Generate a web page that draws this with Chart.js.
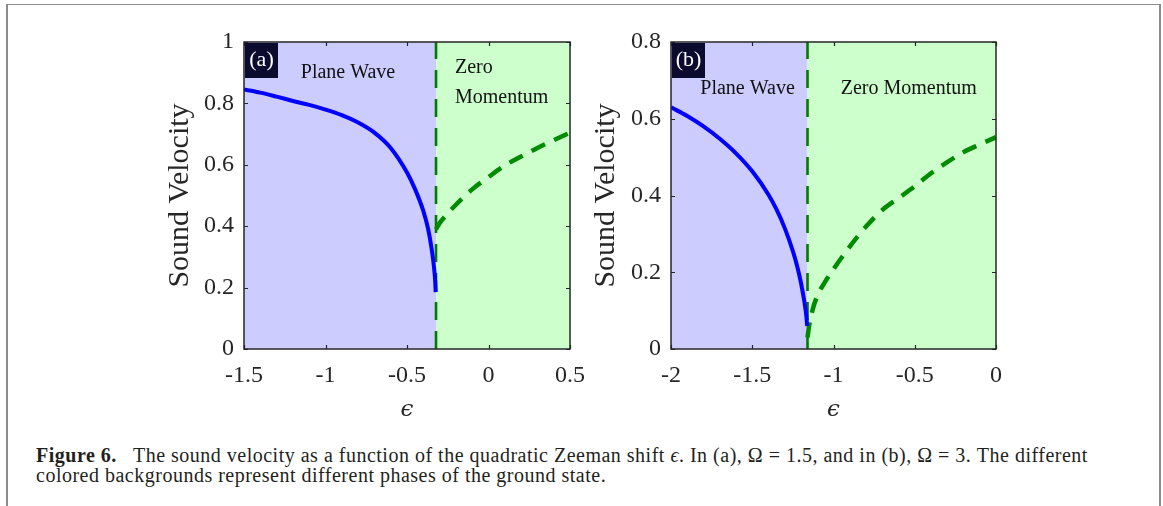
<!DOCTYPE html>
<html><head><meta charset="utf-8">
<script src="https://cdn.jsdelivr.net/npm/chart.js@4.4.0/dist/chart.umd.min.js"></script>
<style>
html,body{margin:0;padding:0;background:#fff;width:1163px;height:506px;overflow:hidden;position:relative;}
#frame{position:absolute;left:6px;top:4px;width:1155px;height:540px;box-sizing:border-box;border-left:2px solid #8c8c8c;border-top:1px solid #8c8c8c;border-right:2px solid #8c8c8c;}
#ca{position:absolute;left:0;top:0;}
#cb{position:absolute;left:560px;top:0;}
#cap{position:absolute;left:36px;top:445px;font-family:"Liberation Serif",serif;font-size:20px;letter-spacing:0.5px;line-height:20px;color:#231f20;white-space:nowrap;}
</style></head>
<body>
<div id="frame"></div>
<canvas id="ca" width="600" height="440"></canvas>
<canvas id="cb" width="603" height="440"></canvas>
<div id="cap"><b>Figure 6.</b>&nbsp;&nbsp; The sound velocity as a function of the quadratic Zeeman shift <i>ϵ</i>. In (a), Ω = 1.5, and in (b), Ω = 3. The different<br>colored backgrounds represent different phases of the ground state.</div>
<script>
// ---------- Panel (a) data: Ω = 1.5 ----------
const epsA_plane = [-1.5,-1.4,-1.3,-1.2,-1.1,-1.0,-0.9,-0.8,-0.7,-0.6,-0.5,-0.45,-0.4,-0.37,-0.35,-0.335,-0.327,-0.324];
const velA_plane = [0.845,0.835,0.822,0.808,0.795,0.78,0.762,0.738,0.705,0.655,0.575,0.52,0.45,0.39,0.33,0.27,0.22,0.185];
const epsA_zero  = [-0.322,-0.3,-0.27,-0.2,-0.1,0,0.1,0.2,0.3,0.4,0.5];
const velA_zero  = [0.39,0.41,0.43,0.47,0.52,0.56,0.598,0.627,0.655,0.68,0.705];
const boundaryA = -0.322;
const xTickValsA = [-1.5,-1,-0.5,0,0.5];
const xTickLabelsA = ['-1.5','-1','-0.5','0','0.5'];
const yTickValsA = [0,0.2,0.4,0.6,0.8,1];
const yTickLabelsA = ['0','0.2','0.4','0.6','0.8','1'];

// ---------- Panel (b) data: Ω = 3 ----------
const epsB_plane = [-2.0,-1.9,-1.8,-1.7,-1.6,-1.5,-1.4,-1.35,-1.3,-1.25,-1.22,-1.2,-1.18,-1.167,-1.162];
const velB_plane = [0.63,0.607,0.58,0.548,0.51,0.463,0.402,0.363,0.315,0.255,0.21,0.172,0.125,0.085,0.06];
const epsB_zero  = [-1.16,-1.15,-1.13,-1.1,-1.05,-1.0,-0.9,-0.8,-0.7,-0.6,-0.5,-0.4,-0.3,-0.2,-0.1,0];
const velB_zero  = [0.03,0.06,0.1,0.138,0.176,0.208,0.267,0.319,0.362,0.393,0.424,0.458,0.487,0.513,0.533,0.552];
const boundaryB = -1.16;
const xTickValsB = [-2,-1.5,-1,-0.5,0];
const xTickLabelsB = ['-2','-1.5','-1','-0.5','0'];
const yTickValsB = [0,0.2,0.4,0.6,0.8];
const yTickLabelsB = ['0','0.2','0.4','0.6','0.8'];

const SERIF = '"Liberation Serif", "Times New Roman", serif';
const INK = '#262626';

function pts(xs, ys){ return xs.map((x,i)=>({x:x,y:ys[i]})); }

const phasePlugin = {
  id:'phase',
  beforeDraw(chart){
    const o = chart.options.plugins.phase; const a = chart.chartArea; const ctx = chart.ctx;
    const bx = chart.scales.x.getPixelForValue(o.boundary);
    ctx.save();
    ctx.fillStyle = '#ccccff'; ctx.fillRect(a.left, a.top, bx - a.left, a.bottom - a.top);
    ctx.fillStyle = '#ccffcc'; ctx.fillRect(bx, a.top, a.right - bx, a.bottom - a.top);
    ctx.restore();
  },
  afterDraw(chart){
    const o = chart.options.plugins.phase; const a = chart.chartArea; const ctx = chart.ctx;
    const xs = chart.scales.x, ys = chart.scales.y;
    ctx.save();
    ctx.strokeStyle = INK; ctx.lineWidth = 1.2;
    ctx.beginPath();
    o.xticks.forEach(v=>{ const p = Math.round(xs.getPixelForValue(v))+0.5;
      ctx.moveTo(p,a.bottom); ctx.lineTo(p,a.bottom-4); ctx.moveTo(p,a.top); ctx.lineTo(p,a.top+4); });
    o.yticks.forEach(v=>{ const p = Math.round(ys.getPixelForValue(v))+0.5;
      ctx.moveTo(a.left,p); ctx.lineTo(a.left+4,p); ctx.moveTo(a.right,p); ctx.lineTo(a.right-4,p); });
    ctx.stroke();
    ctx.lineWidth = 1.5;
    ctx.strokeRect(a.left, a.top, a.right - a.left, a.bottom - a.top);
    ctx.fillStyle = '#0b0b30';
    ctx.fillRect(a.left+1, a.top+1, 33, 35);
    ctx.fillStyle = '#ffffff'; ctx.font = '22px ' + SERIF;
    ctx.textAlign = 'center'; ctx.textBaseline = 'middle';
    ctx.fillText(o.letter, a.left + 17.5, a.top + 18);
    ctx.fillStyle = '#111111'; ctx.font = '20px ' + SERIF;
    o.labels.forEach(l=>{
      ctx.textAlign = l.align;
      ctx.fillText(l.text, xs.getPixelForValue(l.x), ys.getPixelForValue(l.y));
    });
    ctx.restore();
  }
};

function makeChart(id, cfg){
  return new Chart(document.getElementById(id), {
    type:'scatter',
    data:{datasets:[
      {data:pts(cfg.epsP,cfg.velP), showLine:true, borderColor:'#0000ff', borderWidth:4, pointRadius:0, cubicInterpolationMode:'monotone'},
      {data:pts(cfg.epsZ,cfg.velZ), showLine:true, borderColor:'#008a00', borderWidth:4.5, borderDash:[15,10], pointRadius:0, cubicInterpolationMode:'monotone'},
      {data:[{x:cfg.boundary,y:cfg.yMin},{x:cfg.boundary,y:cfg.yMax}], showLine:true, borderColor:'#007a00', borderWidth:2.6, borderDash:[18,11], pointRadius:0}
    ]},
    options:{
      responsive:false, animation:false, devicePixelRatio:1,
      layout:{padding:{left:0, top:42, right:cfg.padRight, bottom:0}},
      plugins:{legend:{display:false}, tooltip:{enabled:false},
        phase:{boundary:cfg.boundary, letter:cfg.letter, labels:cfg.labels, xticks:cfg.xv, yticks:cfg.yv}},
      scales:{
        x:{type:'linear', min:cfg.xMin, max:cfg.xMax,
          afterFit:s=>{s.height = 91;},
          afterBuildTicks:s=>{s.ticks = cfg.xv.map(v=>({value:v}));},
          grid:{display:false, drawTicks:false}, border:{display:false},
          ticks:{padding:12, color:INK, font:{family:SERIF, size:24}, maxRotation:0, autoSkip:false,
            callback:(v,i)=>cfg.xl[i]},
          title:{display:true, text:'ϵ', color:INK, font:{family:'"DejaVu Serif", serif', size:23, style:'italic'}, padding:{top:0,bottom:16}}
        },
        y:{type:'linear', min:cfg.yMin, max:cfg.yMax,
          afterFit:s=>{s.width = cfg.yAxisW;},
          afterBuildTicks:s=>{s.ticks = cfg.yv.map(v=>({value:v}));},
          grid:{display:false, drawTicks:false}, border:{display:false},
          ticks:{padding:10, color:INK, font:{family:SERIF, size:24}, autoSkip:false,
            callback:(v,i)=>cfg.yl[i]},
          title:{display:true, text:'Sound Velocity', color:INK, font:{family:SERIF, size:30}, padding:{top:cfg.titlePad,bottom:0}}
        }
      }
    },
    plugins:[phasePlugin]
  });
}

makeChart('ca', {epsP:epsA_plane, velP:velA_plane, epsZ:epsA_zero, velZ:velA_zero, boundary:boundaryA,
  xMin:-1.5, xMax:0.5, yMin:0, yMax:1, xv:xTickValsA, xl:xTickLabelsA, yv:yTickValsA, yl:yTickLabelsA,
  padRight:30, yAxisW:244, titlePad:162, letter:'(a)',
  labels:[{text:'Plane Wave', x:-0.862, y:0.899, align:'center'},
          {text:'Zero', x:-0.206, y:0.915, align:'left'},
          {text:'Momentum', x:-0.206, y:0.818, align:'left'}]});

makeChart('cb', {epsP:epsB_plane, velP:velB_plane, epsZ:epsB_zero, velZ:velB_zero, boundary:boundaryB,
  xMin:-2, xMax:0, yMin:0, yMax:0.8, xv:xTickValsB, xl:xTickLabelsB, yv:yTickValsB, yl:yTickLabelsB,
  padRight:167, yAxisW:111, titlePad:28, letter:'(b)',
  labels:[{text:'Plane Wave', x:-1.529, y:0.678, align:'center'},
          {text:'Zero Momentum', x:-0.537, y:0.678, align:'center'}]});
</script>
</body></html>
